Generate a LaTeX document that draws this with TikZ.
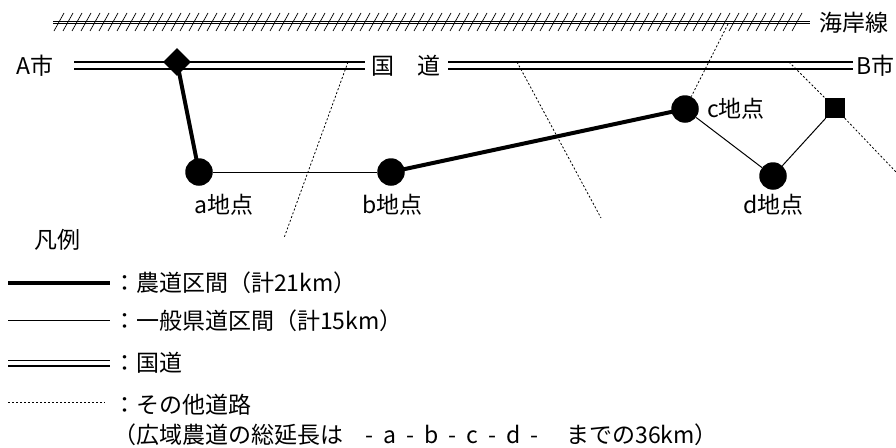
\documentclass[tikz,border=0pt]{standalone}
\usepackage{fontspec}
\setmainfont{Noto Sans CJK JP}
\usetikzlibrary{shapes.geometric}
\tikzset{
  pt/.style={circle,fill=black,inner sep=0pt,minimum size=27.5pt},
  junc/.style={diamond,aspect=1,fill=black,inner sep=0pt,minimum size=28pt},
  sq/.style={rectangle,fill=black,inner sep=0pt,minimum size=20pt},
  lbl/.style={inner sep=0pt,anchor=west,font=\fontsize{23}{25}\selectfont},
  thickroad/.style={line width=4pt},
  thinroad/.style={line width=1pt},
  otherroad/.style={line width=0.8pt,dash pattern=on 2pt off 2pt},
  natroad/.style={line width=1.2pt},
  coast/.style={line width=0.8pt},
  hatch/.style={line width=0.7pt},
}
\newcommand{\gsp}{\hspace{10pt}}
\begin{document}
\begin{tikzpicture}[x=1pt,y=-1pt]
\useasboundingbox (0,0) rectangle (896,447);

% coastline
\coordinate (cs) at (53,21);
\coordinate (ce) at (810,21);
\coordinate (cs2) at (53,23.5);
\coordinate (ce2) at (810,23.5);
\draw[coast] (cs) -- (ce);
\draw[coast] (cs2) -- (ce2);
\foreach \x in {54,63,...,800} \draw[hatch] (\x,31) -- (\x+10,13);
\node[lbl] (coasttxt) at (819,23) {海岸線};

% national road
\node[lbl] (acity) at (16,66) {A市};
\node[lbl] (kokudo) at (371,66) {国　道};
\node[lbl,anchor=east] (bcity) at (895,66) {B市};
\coordinate (r1a) at (74,62);  \coordinate (r1b) at (365,62);
\coordinate (r1c) at (74,69);  \coordinate (r1d) at (365,69);
\coordinate (r2a) at (448,62); \coordinate (r2b) at (853,62);
\coordinate (r2c) at (448,69); \coordinate (r2d) at (853,69);
\draw[natroad] (r1a) -- (r1b);
\draw[natroad] (r1c) -- (r1d);
\draw[natroad] (r2a) -- (r2b);
\draw[natroad] (r2c) -- (r2d);

% nodes
\node[junc] (dia) at (177,62) {};
\node[pt] (a) at (199,172) {};
\node[pt] (b) at (391,172) {};
\node[pt] (c) at (685,109) {};
\node[pt] (d) at (773,176) {};
\node[sq] (s) at (835,108) {};

% other roads
\coordinate (o1a) at (348,62);  \coordinate (o1b) at (284,238);
\coordinate (o2a) at (517,62);  \coordinate (o2b) at (601,218);
\coordinate (o3a) at (728,24);
\coordinate (o4a) at (789,62);  \coordinate (o4b) at (896,172);
\draw[otherroad] (o1a) -- (o1b);
\draw[otherroad] (o2a) -- (o2b);
\draw[otherroad] (o3a) -- (c);
\draw[otherroad] (o4a) -- (s);
\draw[otherroad] (s) -- (o4b);

% farm road / prefectural road
\draw[thickroad] (dia.center) -- (a.center);
\draw[thinroad] (a) -- (b);
\draw[thickroad] (b.center) -- (c.center);
\draw[thinroad] (c) -- (d);
\draw[thinroad] (d) -- (s);

% labels
\node[lbl] (la) at (194,205) {a地点};
\node[lbl] (lb) at (362,205) {b地点};
\node[lbl] (lc) at (707,109) {c地点};
\node[lbl] (ld) at (743,205) {d地点};

% legend
\node[lbl] (leg) at (34,240) {凡例};
\coordinate (l1a) at (8,283);  \coordinate (l1b) at (110,283);
\coordinate (l2a) at (8,320);  \coordinate (l2b) at (110,320);
\coordinate (l3a) at (8,360.5);  \coordinate (l3b) at (110,360.5);
\coordinate (l3c) at (8,366);  \coordinate (l3d) at (110,366);
\coordinate (l4a) at (8,402);  \coordinate (l4b) at (105,402);
\draw[thickroad] (l1a) -- (l1b);
\draw[thinroad] (l2a) -- (l2b);
\draw[natroad] (l3a) -- (l3b);
\draw[natroad] (l3c) -- (l3d);
\draw[otherroad] (l4a) -- (l4b);
\node[lbl] (t1) at (113,283) {：農道区間（計21km）};
\node[lbl] (t2) at (113,321) {：一般県道区間（計15km）};
\node[lbl] (t3) at (113,363) {：国道};
\node[lbl] (t4) at (113,405) {：その他道路};
\node[lbl] (t5) at (113,435) {（広域農道の総延長は\hspace{22pt}-\gsp a\gsp -\gsp b\gsp -\gsp c\gsp -\gsp d\gsp -\hspace{28pt}までの36km）};
\end{tikzpicture}
\end{document}
